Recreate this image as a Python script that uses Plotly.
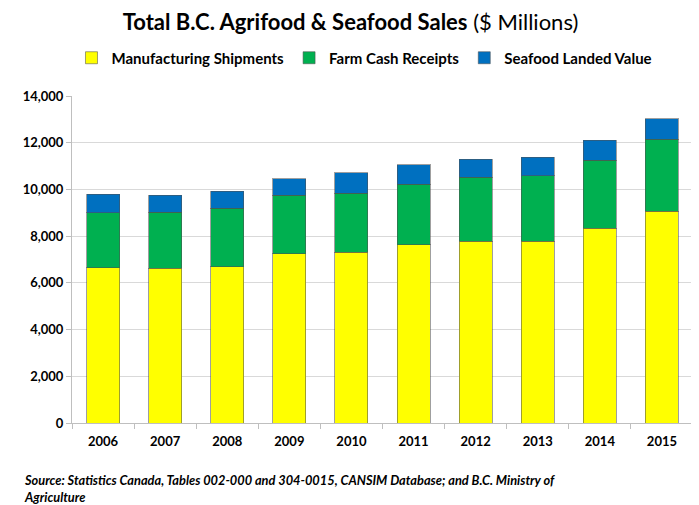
import plotly.graph_objects as go

years = ["2006", "2007", "2008", "2009", "2010", "2011", "2012", "2013", "2014", "2015"]
manufacturing = [6650, 6620, 6680, 7250, 7320, 7635, 7790, 7790, 8335, 9075]
farm_cash = [2350, 2400, 2525, 2510, 2515, 2585, 2740, 2800, 2910, 3070]
seafood = [790, 730, 715, 700, 870, 840, 760, 785, 855, 885]

FONT = "Lato"
outline = dict(color="rgba(80,80,80,0.55)", width=1)

fig = go.Figure()
fig.add_trace(go.Bar(x=years, y=manufacturing, name="<b>Manufacturing Shipments</b>",
                     marker=dict(color="#FFFF00", line=outline)))
fig.add_trace(go.Bar(x=years, y=farm_cash, name="<b>Farm Cash Receipts</b>",
                     marker=dict(color="#00B050", line=outline)))
fig.add_trace(go.Bar(x=years, y=seafood, name="<b>Seafood Landed Value</b>",
                     marker=dict(color="#0070C0", line=outline)))

fig.update_layout(
    barmode="stack",
    bargap=0.47,
    width=699, height=505,
    margin=dict(l=64, r=14, t=88, b=90, autoexpand=False),
    paper_bgcolor="white", plot_bgcolor="white",
    font=dict(family=FONT, color="black"),
    title=dict(text="<b>Total B.C. Agrifood &amp; Seafood Sales</b> ($ Millions)",
               x=0.49, xref="container", xanchor="center", y=0.972, yanchor="middle",
               font=dict(size=22, family=FONT, color="black")),
    legend=dict(orientation="h", x=0.51, xanchor="center", xref="container",
                y=0.901, yref="container", yanchor="middle",
                font=dict(size=15, family=FONT, color="black"),
                traceorder="normal", itemwidth=30, tracegroupgap=0),
    showlegend=True,
)
fig.update_xaxes(type="category", showgrid=False, showline=True, linecolor="#BFBFBF",
                 ticks="outside", tickson="boundaries", ticklen=5, tickcolor="#BFBFBF",
                 tickfont=dict(size=13, family=FONT, color="black"),
                 ticklabelstandoff=6, tickprefix="<b>", ticksuffix="</b>")
fig.update_yaxes(range=[0, 14000], dtick=2000, tickformat=",", showgrid=True,
                 gridcolor="#D9D9D9", showline=True, linecolor="#BFBFBF",
                 ticks="outside", ticklen=5, tickcolor="#BFBFBF", zeroline=False,
                 tickfont=dict(size=13, family=FONT, color="black"),
                 tickprefix="<b>", ticksuffix="</b>")
for t in fig.data:
    t.update(hoverinfo="y")

fig.add_annotation(text="<b><i>Source: Statistics Canada, Tables 002-000 and 304-0015, CANSIM Database; and B.C. Ministry of<br>Agriculture</i></b>",
                   xref="paper", yref="paper", x=-0.081, xanchor="left", y=-0.145, yanchor="top",
                   align="left", showarrow=False,
                   font=dict(size=12.8, family=FONT, color="black"))

fig.write_html("out.html")
